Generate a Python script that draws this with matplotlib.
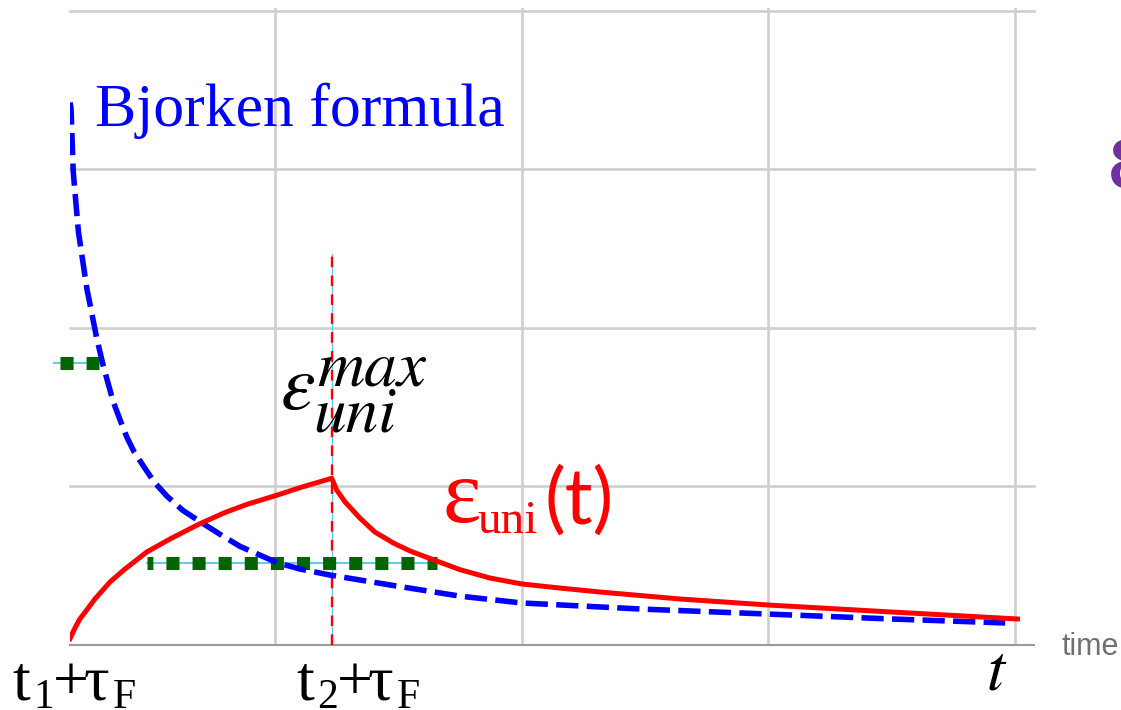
import matplotlib
matplotlib.use("Agg")
import matplotlib.pyplot as plt

W, H = 1121, 710

# ---- data ----
red_rise_x = [0.169, 0.189, 0.209, 0.237, 0.270, 0.331, 0.392, 0.480, 0.574, 0.696, 0.797,
              0.885, 1.007, 1.101, 1.230]
red_rise_y = [0.040, 0.107, 0.164, 0.221, 0.290, 0.397, 0.479, 0.586, 0.668, 0.765, 0.835,
              0.886, 0.944, 0.992, 1.051]
red_fall_x = [1.230, 1.250, 1.284, 1.345, 1.405, 1.480, 1.547, 1.615, 1.750, 1.872, 2.000,
              2.155, 2.318, 2.642, 3.000, 3.500, 4.010]
red_fall_y = [1.051, 0.977, 0.902, 0.799, 0.712, 0.643, 0.593, 0.553, 0.475, 0.422, 0.385,
              0.359, 0.334, 0.290, 0.252, 0.208, 0.164]

bjorken_x = [0.169, 0.173, 0.182, 0.203, 0.237, 0.277, 0.304, 0.344, 0.372, 0.399, 0.429,
             0.466, 0.509, 0.561, 0.627, 0.709, 0.777, 0.858, 1.007, 1.101, 1.223, 1.480,
             1.750, 2.000, 2.480, 3.000, 3.500, 3.960]
bjorken_y = [3.420, 3.388, 2.986, 2.607, 2.250, 1.937, 1.759, 1.535, 1.419, 1.312, 1.217,
             1.130, 1.030, 0.940, 0.848, 0.765, 0.698, 0.622, 0.520, 0.479, 0.441, 0.375,
             0.308, 0.265, 0.227, 0.195, 0.164, 0.139]

t_peak = 1.23
peak_line_top = 2.465

green_low_x = [0.481, 1.657]
green_low_y = [0.514, 0.514]
green_up_x = [0.128, 0.286]
green_up_y = [1.781, 1.781]
cyan_up_x = [0.104, 0.290]

grid_x = [1, 2, 3, 4]
grid_y = [0, 1, 2, 3, 4]

fig = plt.figure(figsize=(W / 100, H / 100), dpi=100)
ax = fig.add_axes([70 / W, (H - 645) / H, (1034 - 70) / W, (645 - 8) / H])
ax.set_xlim(0.169, 4.077)
ax.set_ylim(0, 4.016)
for s in ["top", "right", "left"]:
    ax.spines[s].set_visible(False)
ax.spines["bottom"].set_color("#9a9a9a")
ax.spines["bottom"].set_linewidth(1.5)
ax.set_xticks([])
ax.set_yticks([])

gc = "#cfcfcf"
for gx in grid_x:
    ax.axvline(gx, color=gc, lw=1.9, zorder=0)
for gy in grid_y[1:]:
    ax.axhline(gy, color=gc, lw=1.9, zorder=0, clip_on=False)

# cyan thin guide lines
cy = "#5fc8f0"
ax.plot([t_peak, t_peak], [0, peak_line_top], color=cy, lw=0.9, zorder=2)
ax.plot(green_low_x, green_low_y, color=cy, lw=1.4, zorder=2)
ax.plot(cyan_up_x, green_up_y, color=cy, lw=1.4, zorder=2, clip_on=False)

# vertical red dashed line
ax.plot([t_peak, t_peak], [0, peak_line_top], color="red", lw=1.7, ls=(0, (4.5, 3.5)), zorder=3)

# green square-dotted lines
ax.plot(green_low_x, green_low_y, color="#006400", lw=9.4, ls=(0.55, (1, 1)),
        solid_capstyle="butt", dash_capstyle="butt", zorder=4)
ax.plot(green_up_x, green_up_y, color="#006400", lw=9.4, ls=(0, (1, 1)),
        solid_capstyle="butt", dash_capstyle="butt", zorder=4, clip_on=False)

# Bjorken curve
ax.plot(bjorken_x, bjorken_y, color="blue", lw=4.0, ls=(0, (4, 1.5)), zorder=5)
# red curve
ax.plot(red_rise_x + red_fall_x[1:], red_rise_y + red_fall_y[1:], color="red", lw=3.6,
        zorder=6, solid_joinstyle="round")


def T(px, py, s, **kw):
    fig.text(px / W, 1 - py / H, s, ha="left", va="baseline", **kw)


serif = "Liberation Serif"
T(95, 126, "Bjorken formula", color="blue", fontsize=44.5, family=serif)

# eps_uni^max
T(281, 409, "ε", color="black", fontsize=56, family="STIXGeneral", style="italic")
T(317, 385, "max", color="black", fontsize=47, family="STIXGeneral", style="italic")
T(313, 432, "uni", color="black", fontsize=47, family="STIXGeneral", style="italic")

# eps_uni(t)
T(443, 522, "ε", color="red", fontsize=66, family=serif)
T(477, 533, "uni", color="red", fontsize=34, family=serif)
T(544, 524, "(t)", color="red", fontsize=56, family="Lato")

# x labels
T(12, 700, "t", color="black", fontsize=46, family=serif)
T(33, 708, "1", color="black", fontsize=30, family=serif)
T(53, 700, "+", color="black", fontsize=46, family=serif)
T(84, 700, "τ", color="black", fontsize=46, family=serif)
T(113, 708, "F", color="black", fontsize=30, family=serif)

T(296, 700, "t", color="black", fontsize=46, family=serif)
T(317, 708, "2", color="black", fontsize=30, family=serif)
T(337, 700, "+", color="black", fontsize=46, family=serif)
T(368, 700, "τ", color="black", fontsize=46, family=serif)
T(397, 708, "F", color="black", fontsize=30, family=serif)

T(987, 690, "t", color="black", fontsize=47, family="STIXGeneral", style="italic")
T(1061, 655, "time", color="#707070", fontsize=22, family="Liberation Sans")
T(1107, 188, "ε", color="#7030A0", fontsize=76, family=serif)

fig.savefig("out.png", dpi=100)
